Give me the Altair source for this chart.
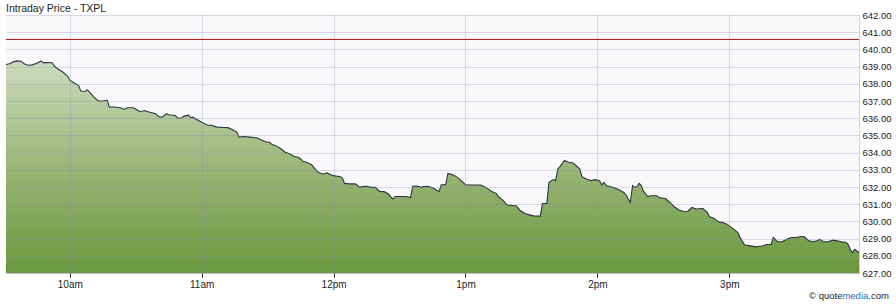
import altair as alt
import numpy as np
import pandas as pd

title_text = "Intraday Price - TXPL"
session_date = "2024-01-02"
open_time = "09:30"

# minutes after the open, and the traded price at that minute
minutes = [
    1, 3, 4, 6, 8, 9, 11, 13, 15, 17,
    18, 19, 22, 23, 25, 27, 29, 30, 32, 34,
    35, 37, 38, 39, 41, 43, 45, 47, 48, 50,
    53, 55, 56, 59, 61, 62, 64, 66, 69, 71,
    72, 74, 75, 78, 79, 81, 82, 84, 85, 86,
    88, 90, 93, 94, 97, 100, 102, 104, 106, 107,
    109, 112, 115, 117, 119, 121, 122, 124, 126, 128,
    130, 132, 134, 135, 136, 138, 140, 141, 143, 145,
    146, 147, 149, 150, 153, 154, 155, 157, 160, 162,
    163, 165, 167, 169, 171, 173, 175, 176, 177, 178,
    183, 185, 186, 188, 190, 191, 193, 195, 196, 198,
    199, 201, 202, 204, 205, 207, 208, 210, 212, 217,
    219, 220, 222, 224, 225, 227, 229, 232, 233, 235,
    237, 239, 241, 244, 245, 247, 248, 250, 251, 252,
    253, 255, 257, 259, 260, 262, 263, 265, 267, 269,
    271, 272, 273, 274, 276, 278, 280, 282, 283, 285,
    286, 287, 288, 289, 290, 291, 293, 294, 297, 298,
    301, 303, 305, 307, 310, 311, 313, 315, 318, 320,
    321, 323, 325, 327, 329, 330, 332, 334, 335, 337,
    339, 342, 345, 347, 349, 350, 352, 354, 356, 358,
    360, 363, 364, 366, 368, 370, 371, 373, 375, 377,
    379, 381, 383, 384, 385, 386, 387, 388, 389,
]
prices = [
    639.12, 639.18, 639.26, 639.33, 639.30, 639.18, 639.08, 639.10, 639.20, 639.33,
    639.22, 639.24, 639.22, 639.02, 638.83, 638.67, 638.44, 638.21, 638.05, 637.91,
    637.58, 637.55, 637.66, 637.52, 637.23, 637.00, 637.00, 637.04, 636.65, 636.65,
    636.61, 636.51, 636.61, 636.61, 636.45, 636.38, 636.45, 636.36, 636.26, 636.06,
    636.06, 636.26, 636.20, 636.16, 636.00, 636.03, 636.12, 636.18, 636.03, 636.06,
    635.91, 635.77, 635.58, 635.60, 635.48, 635.46, 635.45, 635.33, 635.19, 634.90,
    634.94, 634.90, 634.86, 634.74, 634.63, 634.60, 634.47, 634.39, 634.22, 634.02,
    633.93, 633.77, 633.73, 633.63, 633.49, 633.42, 633.30, 633.14, 632.85, 632.76,
    632.79, 632.82, 632.70, 632.66, 632.60, 632.53, 632.21, 632.18, 632.18, 631.98,
    632.02, 632.04, 631.98, 631.98, 631.74, 631.73, 631.59, 631.43, 631.30, 631.45,
    631.45, 631.39, 632.04, 632.06, 631.98, 632.02, 632.04, 631.94, 631.88, 631.73,
    632.13, 632.13, 632.79, 632.72, 632.66, 632.50, 632.37, 632.13, 632.12, 632.12,
    631.98, 631.92, 631.74, 631.63, 631.43, 631.24, 630.95, 630.91, 630.91, 630.62,
    630.46, 630.38, 630.32, 630.31, 631.04, 631.04, 632.27, 632.43, 632.37, 633.05,
    633.19, 633.54, 633.44, 633.40, 633.28, 633.04, 632.60, 632.47, 632.37, 632.43,
    632.37, 632.12, 632.27, 632.08, 632.02, 631.94, 631.82, 631.68, 631.55, 631.10,
    632.08, 631.98, 632.02, 632.21, 632.08, 631.74, 631.43, 631.49, 631.49, 631.39,
    631.33, 631.10, 630.85, 630.66, 630.56, 630.58, 630.81, 630.72, 630.75, 630.52,
    630.27, 630.19, 629.99, 629.93, 629.84, 629.74, 629.55, 629.33, 629.04, 628.63,
    628.59, 628.52, 628.57, 628.66, 628.66, 629.06, 628.82, 628.82, 628.95, 629.06,
    629.06, 629.12, 629.12, 628.89, 628.82, 628.87, 628.96, 628.82, 628.82, 628.91,
    628.87, 628.81, 628.79, 628.67, 628.38, 628.18, 628.38, 628.28, 628.18,
]
prev_close = 640.58
y_min, y_max = 627, 642
y_ticks = list(range(627, 643))
hour_ticks = [10, 11, 12, 13, 14, 15]
logo_parts = ["\u00a9 quote", "media", ".com"]

# fill shading (style only): pale at the top of the area, dark green at the bottom
shade_colors = ["#6a983c", "#98b575", "#ccdbbf"]
shade_domain = [627, 633, 639.4]

start = pd.Timestamp(f"{session_date} {open_time}")
df = pd.DataFrame({
    "time": start + pd.to_timedelta(minutes, unit="m"),
    "price": prices,
})

step = 0.12
band_lo = np.round(np.arange(y_min, y_max, step), 4)
bands = pd.DataFrame({"lo": band_lo, "hi": np.minimum(band_lo + step * 1.7, y_max),
                      "mid": band_lo + step / 2})

FONT = "Liberation Sans"
GRID = "#828cb4"

x_vals = [alt.DateTime(year=2024, month=1, date=2, hours=h) for h in hour_ticks]

x_axis = alt.Axis(
    values=x_vals,
    labelExpr="lower(timeFormat(datum.value, '%-I%p'))",
    grid=True, gridColor=GRID, gridOpacity=0.3,
    domain=False, ticks=True, tickColor="#222222", tickSize=4,
    labelPadding=2, labelFont=FONT, labelFontSize=10, labelColor="#222222",
    labelFlush=False, labelOverlap=False, zindex=1,
)
y_axis = alt.Axis(
    orient="right", values=y_ticks, format=".2f",
    grid=True, gridColor=GRID, gridOpacity=0.3,
    domain=False, ticks=False, labelPadding=3,
    labelFont=FONT, labelFontSize=9.5, labelColor="#222222",
    labelFlush=False, labelOverlap=False, zindex=1,
)
y_scale = alt.Scale(domain=[y_min, y_max], nice=False, zero=False)

x_enc = alt.X("time:T", title=None, scale=alt.Scale(nice=False), axis=x_axis)
y_enc = alt.Y("price:Q", title=None, scale=y_scale, axis=y_axis)

shade = alt.Chart(bands).mark_rect(strokeWidth=0).encode(
    x=alt.value(0), x2=alt.value(853),
    y=alt.Y("lo:Q", title=None, scale=y_scale, axis=y_axis),
    y2="hi:Q",
    color=alt.Color("mid:Q", legend=None,
                    scale=alt.Scale(domain=shade_domain, range=shade_colors,
                                    clamp=True, interpolate="rgb")),
)

base = alt.Chart(df).encode(x=x_enc, y=y_enc)

mask = base.mark_area(color="#f9f9fb", clip=True).encode(y2=alt.datum(y_max))
line = base.mark_line(color="#2b3540", strokeWidth=1.1, clip=True)

rule = alt.Chart(pd.DataFrame({"p": [prev_close]})).mark_rule(
    color="#b01010", strokeWidth=1
).encode(y=alt.Y("p:Q", title=None, scale=y_scale, axis=y_axis))

one = pd.DataFrame({"k": [0]})
title = alt.Chart(one).mark_text(
    font=FONT, fontSize=10.5, color="#222222", align="left", baseline="alphabetic"
).encode(x=alt.value(0), y=alt.value(-3.5), text=alt.value(title_text))

logo1 = alt.Chart(one).mark_text(
    font=FONT, fontSize=9.5, color="#222222", align="left", baseline="alphabetic"
).encode(x=alt.value(803), y=alt.value(284), text=alt.value(logo_parts[0]))
logo2 = alt.Chart(one).mark_text(
    font=FONT, fontSize=9.5, color="#2f6cc0", align="left", baseline="alphabetic"
).encode(x=alt.value(836.4), y=alt.value(284), text=alt.value(logo_parts[1]))
logo3 = alt.Chart(one).mark_text(
    font=FONT, fontSize=9.5, color="#222222", align="left", baseline="alphabetic"
).encode(x=alt.value(862.3), y=alt.value(284), text=alt.value(logo_parts[2]))

chart = alt.layer(shade, mask, line, rule, title, logo1, logo2, logo3).properties(
    width=853,
    height=258,
    padding={"left": 6, "top": 15, "right": 37, "bottom": 32},
    autosize=alt.AutoSizeParams(type="none"),
    background="#ffffff",
).configure_view(
    fill="#f9f9fb", stroke="#cfd2de", strokeWidth=1
)

chart.save("out.html", embed_options={"renderer": "svg", "actions": False})
